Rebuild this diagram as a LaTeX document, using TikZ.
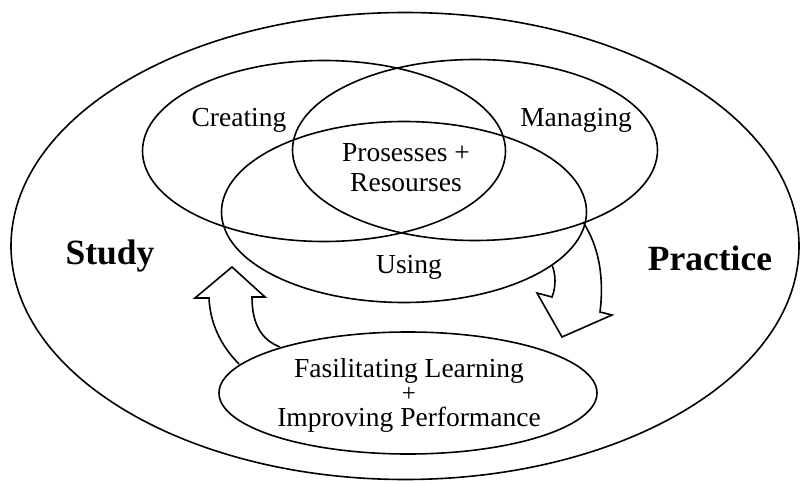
\documentclass[tikz,border=0pt]{standalone}
\usepackage{fontspec}
\setmainfont{Liberation Serif}
\usetikzlibrary{shapes.geometric}
\begin{document}
\begin{tikzpicture}[x=1pt,y=-1pt,
  ring/.style={draw, ellipse, line width=1.6pt, inner sep=0pt, outer sep=0pt},
  lbl/.style={font=\fontsize{27.5}{30}\selectfont, inner sep=0pt},
  big/.style={font=\fontsize{35.5}{38}\selectfont\bfseries, inner sep=0pt},
  blockarrow/.style={draw, line width=1.6pt, line join=miter}]
\useasboundingbox (0,0) rectangle (801,484);
\node[ring, minimum width=788pt, minimum height=467pt] (outer) at (405,246) {};
\node[ring, minimum width=363pt, minimum height=181pt] (create) at (324,151) {};
\node[ring, minimum width=365pt, minimum height=181pt] (manage) at (475,150) {};
\node[ring, minimum width=365pt, minimum height=181pt] (use) at (404,212) {};
\node[ring, minimum width=378pt, minimum height=122pt] (facil) at (408,393) {};
% block arrows
\draw[blockarrow] (239,364) .. controls (220,345) and (210,322) .. (209,298)
  -- (195,298) -- (232,267) -- (265,297) -- (252,297)
  .. controls (252,325) and (262,340) .. (280,347);
\draw[blockarrow] (583,222) .. controls (600,248) and (604,280) .. (600,312)
  -- (612,315) -- (562,337) -- (537,293) -- (552,297)
  .. controls (556,287) and (556,275) .. (552,265);
% texts
\node[lbl] (tcreate) at (239,120) {Creating};
\node[lbl] (tmanage) at (576,120) {Managing};
\node[lbl, align=center, font=\fontsize{27.5}{30}\selectfont] (tcore) at (406,168) {Prosesses +\\Resourses};
\node[lbl] (tuse) at (409,267) {Using};
\node[big] (study) at (110,256) {Study};
\node[big] (practice) at (710,258) {Practice};
\node[lbl, anchor=base] (tfacil) at (409,377) {Fasilitating Learning};
\node[lbl, anchor=base, font=\fontsize{25}{28}\selectfont] (tplus) at (409,401) {+};
\node[lbl, anchor=base] (timprove) at (409,426) {Improving Performance};
\end{tikzpicture}
\end{document}
